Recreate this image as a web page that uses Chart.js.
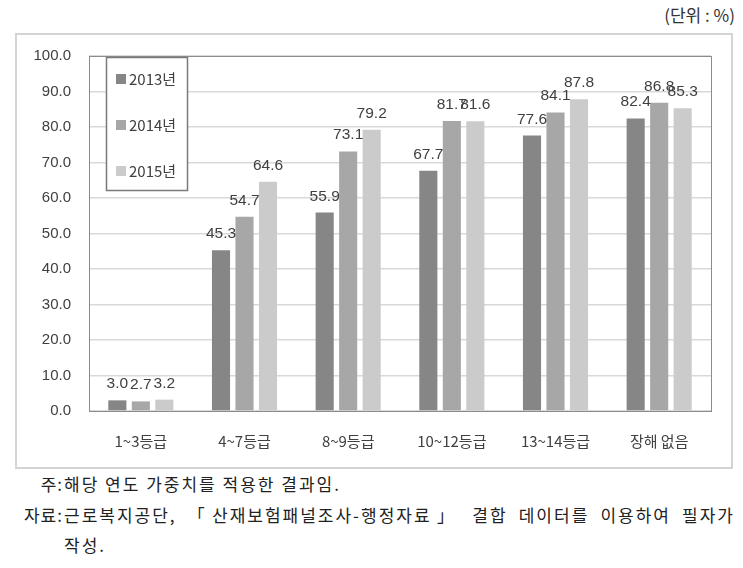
<!DOCTYPE html>
<html>
<head>
<meta charset="utf-8">
<script src="https://cdn.jsdelivr.net/npm/chart.js@4"></script>
<style>
  html, body { margin: 0; padding: 0; background: #fff; }
  body { width: 743px; height: 568px; position: relative; overflow: hidden;
         font-family: "Noto Sans CJK KR", "Noto Sans", sans-serif; color: #222; }
  #unit { position: absolute; right: 8px; top: 2px; font-size: 17px; color: #333; }
  #frame { position: absolute; left: 15px; top: 33px; width: 714px; height: 432px;
           border: 2px solid #d4d4d4; }
  #frame canvas { display: block; margin-top: -6px; }
  .note { position: absolute; font-size: 17px; color: #222; line-height: 22px; letter-spacing: 2px; }
  .note .lab { position: absolute; right: 100%; margin-right: 1px; white-space: nowrap; letter-spacing: 1px; }
</style>
</head>
<body>
<div id="unit">(단위 : %)</div>
<div id="frame"><canvas id="c" width="714" height="438"></canvas></div>
<div class="note" style="left:64px; top:473px;"><span class="lab">주:</span>해당 연도 가중치를 적용한 결과임.</div>
<div class="note" style="left:64px; top:504px; width:671px; text-align:justify; text-align-last:justify;"><span class="lab">자료:</span>근로복지공단, 「산재보험패널조사-행정자료」 결합 데이터를 이용하여 필자가</div>
<div class="note" style="left:64px; top:534px;">작성.</div>
<script>
// chart values
const categories = ["1~3등급", "4~7등급", "8~9등급", "10~12등급", "13~14등급", "장해 없음"];
const seriesNames = ["2013년", "2014년", "2015년"];
const values2013 = [3.0, 45.3, 55.9, 67.7, 77.6, 82.4];
const values2014 = [2.7, 54.7, 73.1, 81.7, 84.1, 86.8];
const values2015 = [3.2, 64.6, 79.2, 81.6, 87.8, 85.3];
const yTicks = [0, 10, 20, 30, 40, 50, 60, 70, 80, 90, 100];

const COLORS = ["#868686", "#a7a7a7", "#cbcbcb"];
const GRID = "#d9d9d9";
const FRAME = "#8c8c8c";
const TEXT = "#404040";

// value labels above each bar
const valueLabels = {
  id: "valueLabels",
  afterDatasetsDraw(chart) {
    const ctx = chart.ctx;
    ctx.save();
    ctx.font = "15.5px 'Liberation Sans', Arial, sans-serif";
    ctx.fillStyle = TEXT;
    ctx.textAlign = "center";
    ctx.textBaseline = "alphabetic";
    chart.data.datasets.forEach((ds, i) => {
      chart.getDatasetMeta(i).data.forEach((bar, j) => {
        ctx.fillText(ds.data[j].toFixed(1), bar.x, bar.y - 12);
      });
    });
    ctx.restore();
  },
};

// plot frame + boxed legend in the upper left
const frameAndLegend = {
  id: "frameAndLegend",
  afterDraw(chart) {
    const { ctx, chartArea: a } = chart;
    ctx.save();
    ctx.strokeStyle = FRAME;
    ctx.lineWidth = 1;
    ctx.strokeRect(Math.round(a.left) + 0.5, Math.round(a.top) + 0.5,
      Math.round(a.right - a.left), Math.round(a.bottom - a.top));

    const x0 = a.left + 17, y0 = a.top + 1, w = 81, h = 133;
    ctx.fillStyle = "#fff";
    ctx.fillRect(x0, y0, w, h);
    ctx.strokeStyle = "#7a7a7a";
    ctx.lineWidth = 1.5;
    ctx.strokeRect(x0 + 0.5, y0 + 0.5, w, h);
    ctx.font = "15px 'Noto Sans CJK KR', sans-serif";
    ctx.textBaseline = "middle";
    ctx.textAlign = "left";
    chart.data.datasets.forEach((ds, i) => {
      const cy = y0 + 22 + i * 46;
      ctx.fillStyle = ds.backgroundColor;
      ctx.fillRect(x0 + 10, cy - 5, 10, 10);
      ctx.fillStyle = TEXT;
      ctx.fillText(ds.label, x0 + 23, cy);
    });
    ctx.restore();
  },
};

new Chart(document.getElementById("c"), {
  type: "bar",
  data: {
    labels: categories,
    datasets: [values2013, values2014, values2015].map((d, i) => ({
      label: seriesNames[i],
      data: d,
      backgroundColor: COLORS[i],
      barPercentage: 0.77,
      categoryPercentage: 0.68,
    })),
  },
  options: {
    responsive: false,
    animation: false,
    layout: { padding: { top: 10, right: 20, left: 0, bottom: 0 } },
    plugins: { legend: { display: false }, tooltip: { enabled: false } },
    scales: {
      x: {
        grid: { display: false },
        border: { display: false },
        ticks: { color: TEXT, font: { size: 15, family: "'Noto Sans CJK KR', sans-serif" }, padding: 13 },
        afterFit: (s) => { s.height = 56; },
      },
      y: {
        min: 0,
        max: 100,
        afterBuildTicks: (s) => { s.ticks = yTicks.map((v) => ({ value: v })); },
        grid: { color: GRID, lineWidth: 1.5, drawTicks: false },
        border: { display: false },
        ticks: {
          color: TEXT,
          padding: 18,
          font: { size: 15, family: "'Liberation Sans', Arial, sans-serif" },
          callback: (v) => Number(v).toFixed(1),
        },
        afterFit: (s) => { s.width = 72; },
      },
    },
  },
  plugins: [valueLabels, frameAndLegend],
});
</script>
</body>
</html>
